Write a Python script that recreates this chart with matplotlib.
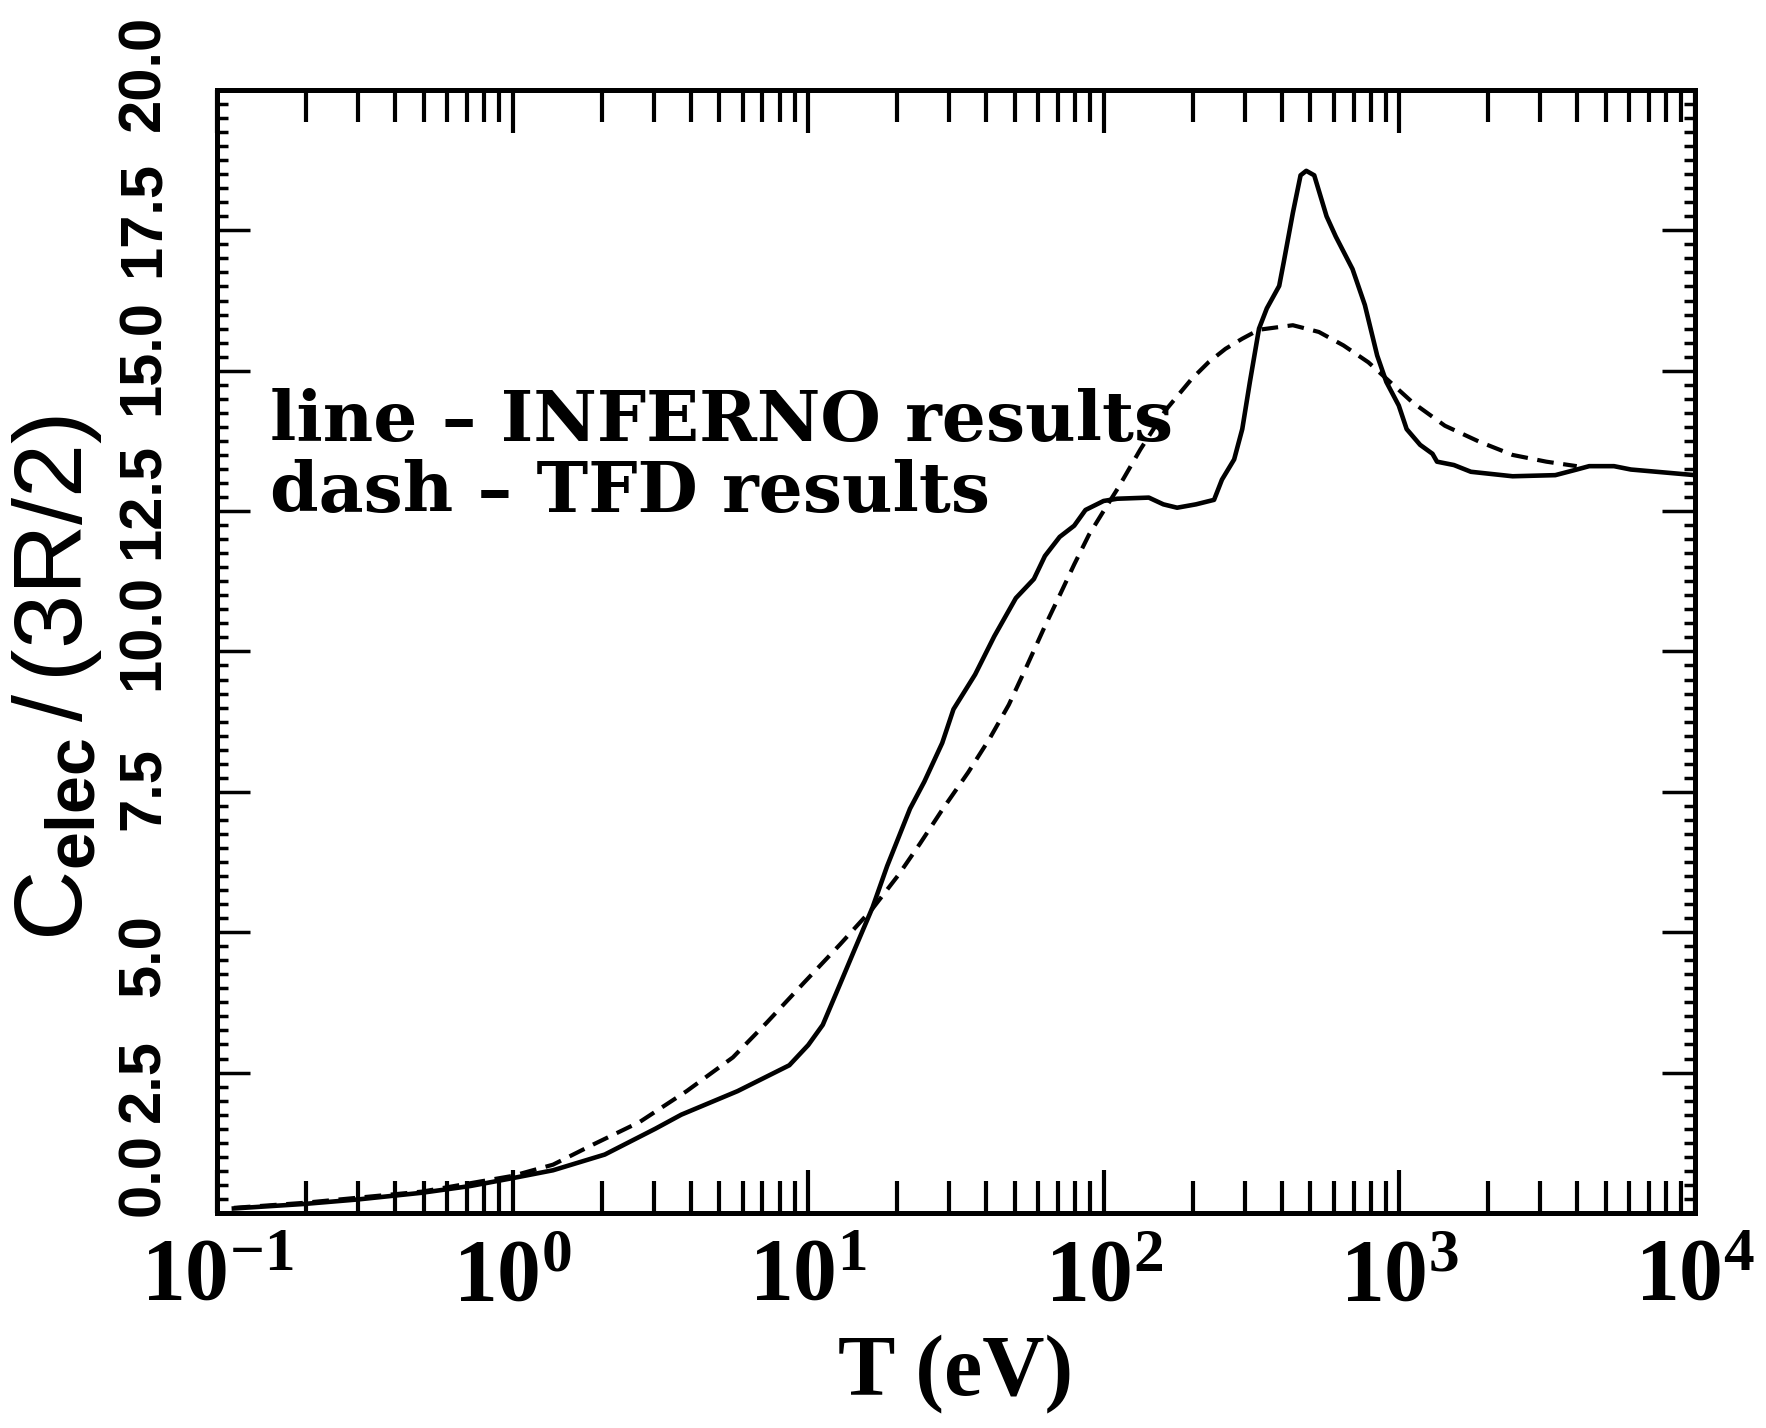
import numpy as np
import matplotlib
matplotlib.use("Agg")
import matplotlib.pyplot as plt
from matplotlib.ticker import LogLocator, MultipleLocator, NullFormatter
from matplotlib.transforms import ScaledTranslation

# values
T_inferno = [0.114, 0.197, 0.299, 0.494, 0.720, 1.00, 1.37, 2.05, 3.04, 3.72, 5.77, 8.63,
             10.0, 11.2, 12.8, 14.4, 16.5, 18.5, 22.1, 24.7, 28.4, 31.0, 36.7, 42.6, 50.4,
             58.0, 63.2, 70.9, 79.4, 86.7, 99.8, 111, 142, 159, 177, 205, 236, 251, 276,
             294, 312, 335, 356, 392, 406, 436, 463, 484, 515, 567, 609, 694, 764, 841,
             903, 995, 1058, 1175, 1294, 1340, 1529, 1745, 2415, 3368, 3980, 4385, 5320,
             6070, 10000]
C_inferno = [0.08, 0.16, 0.24, 0.36, 0.48, 0.62, 0.76, 1.04, 1.50, 1.75, 2.17, 2.63,
             2.99, 3.35, 4.07, 4.71, 5.44, 6.18, 7.20, 7.68, 8.37, 8.97, 9.59, 10.27, 10.95,
             11.29, 11.70, 12.04, 12.24, 12.52, 12.68, 12.72, 12.74, 12.62, 12.56, 12.62,
             12.70, 13.06, 13.42, 13.96, 14.80, 15.75, 16.11, 16.51, 16.93, 17.81, 18.48,
             18.56, 18.48, 17.75, 17.39, 16.81, 16.17, 15.27, 14.80, 14.38, 13.96, 13.68,
             13.52, 13.38, 13.32, 13.20, 13.12, 13.14, 13.24, 13.30, 13.30, 13.24, 13.14]

T_tfd = [0.114, 0.197, 0.494, 1.00, 1.37, 1.875, 2.69, 3.88, 5.56, 7.24, 9.67, 12.8,
         16.5, 20.2, 23.9, 28.4, 34.8, 41.1, 47.7, 55.0, 63.2, 70.9, 79.4, 89.1, 99.8,
         112, 133, 162, 198, 226, 258, 294, 335, 436, 534, 647, 785, 903, 1105, 1425,
         1855, 2415, 3140, 3980]
C_tfd = [0.09, 0.18, 0.38, 0.66, 0.86, 1.22, 1.62, 2.17, 2.77, 3.39, 4.10, 4.78,
         5.42, 6.02, 6.58, 7.18, 7.85, 8.45, 9.05, 9.75, 10.45, 11.00, 11.55, 12.08, 12.50,
         12.92, 13.60, 14.30, 14.85, 15.15, 15.39, 15.57, 15.73, 15.81, 15.69, 15.45,
         15.15, 14.86, 14.44, 14.02, 13.74, 13.50, 13.38, 13.30]

x_ticks = [0.1, 1, 10, 100, 1000, 10000]
x_ticklabels = [r'$10^{-1}$', r'$10^{0}$', r'$10^{1}$', r'$10^{2}$', r'$10^{3}$', r'$10^{4}$']
y_ticks = [0.0, 2.5, 5.0, 7.5, 10.0, 12.5, 15.0, 17.5, 20.0]
y_ticklabels = ['0.0', '2.5', '5.0', '7.5', '10.0', '12.5', '15.0', '17.5', '20.0']
# the rotated y labels sit a little off their ticks in the original (points, up = +)
y_label_shift = [28, -6, -17, 2, 14, 7, 10, 8, 12]

plt.rcParams['mathtext.fontset'] = 'custom'
plt.rcParams['mathtext.rm'] = 'Liberation Serif:bold'
plt.rcParams['mathtext.it'] = 'Liberation Serif:bold'
plt.rcParams['mathtext.bf'] = 'Liberation Sans:bold'
plt.rcParams['mathtext.sf'] = 'Liberation Sans'

fig = plt.figure(figsize=(17.66, 14.28), dpi=100)
ax = fig.add_axes([0.1229, 0.1506, 0.8369, 0.7864])

ax.plot(T_inferno, C_inferno, color='black', lw=3.3, solid_joinstyle='round')
ax.plot(T_tfd, C_tfd, color='black', lw=3.0, dashes=(4, 2.3))

ax.set_xscale('log')
ax.set_xlim(0.1, 10000)
ax.set_ylim(0, 20)

ax.set_xticks(x_ticks)
ax.set_xticklabels(x_ticklabels, fontsize=63)
ax.xaxis.set_minor_locator(LogLocator(base=10, subs=np.arange(2, 10)))
ax.xaxis.set_minor_formatter(NullFormatter())

ax.set_yticks(y_ticks)
ax.set_yticklabels(y_ticklabels, rotation=90, va='center', fontsize=43,
                   fontfamily='Liberation Sans', fontweight='bold')
ax.yaxis.set_minor_locator(MultipleLocator(0.25))

ax.tick_params(axis='x', which='major', direction='in', length=31, width=3,
               top=True, bottom=True, pad=15)
ax.tick_params(axis='x', which='minor', direction='in', length=23, width=3,
               top=True, bottom=True)
ax.tick_params(axis='y', which='major', direction='in', length=24, width=2.5,
               left=True, right=True, pad=33)
ax.tick_params(axis='y', which='minor', direction='in', length=8, width=2.5,
               left=True, right=True)
for s in ax.spines.values():
    s.set_linewidth(3.6)

for tick, dy in zip(ax.yaxis.get_major_ticks(), y_label_shift):
    lab = tick.label1
    lab.set_transform(lab.get_transform() + ScaledTranslation(0, dy / 72, fig.dpi_scale_trans))

ax.set_xlabel('T (eV)', fontsize=62, fontfamily='Liberation Serif', fontweight='bold')
ax.xaxis.set_label_coords(0.5, -0.108)

fig.text(0.0325, 0.525, r'$\mathsf{C}_{\mathbf{elec}}\,\mathsf{/}\,\mathsf{(3R/2)}$',
         rotation=90, ha='center', va='center', fontsize=70)

ax.text(0.036, 0.687, 'line – INFERNO results', transform=ax.transAxes, fontsize=50,
        fontfamily='DejaVu Serif', fontweight='bold', va='baseline')
ax.text(0.036, 0.624, 'dash – TFD results', transform=ax.transAxes, fontsize=50,
        fontfamily='DejaVu Serif', fontweight='bold', va='baseline')

fig.savefig('out.png', dpi=100)
